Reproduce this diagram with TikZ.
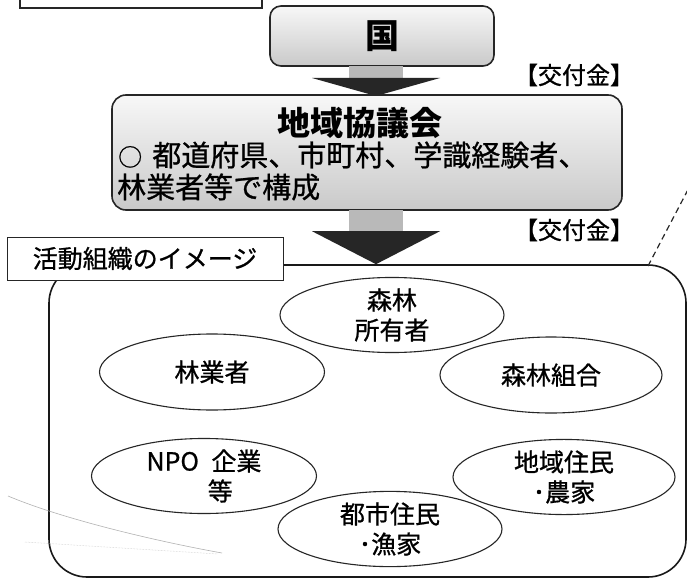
\documentclass[tikz,border=0pt]{standalone}
\usepackage{fontspec}
\newfontfamily\jp{Noto Sans CJK JP}
\newfontfamily\jpm[FakeBold=0.8]{Noto Sans CJK JP}
\usetikzlibrary{shapes.geometric,calc}
\tikzset{
  boxline/.style={draw=black!85, line width=1.6pt},
  grayfill/.style={top color=gray!6, bottom color=gray!42},
  orgell/.style={ellipse, draw=black!85, line width=1.1pt, inner sep=0pt, align=center,
    font=\jpm\fontsize{25}{30}\selectfont},
  shaftc/.style={fill=gray!55},
  headc/.style={fill=black!85},
  koufu/.style={font=\jpm\fontsize{24}{26}\selectfont},
}
\begin{document}
\begin{tikzpicture}[x=1pt,y=-1pt]
\useasboundingbox (0,0) rectangle (687,580);
\clip (0,0) rectangle (687,580);
\fill[white] (0,0) rectangle (687,580);
% top-left box (cut by the top edge)
\node[draw=black!85, line width=2pt, minimum width=242pt, minimum height=24pt, inner sep=0pt] (tl) at (141,-4) {};
% kuni box
\node[boxline, grayfill, rounded corners=11pt, minimum width=224pt, minimum height=60pt, inner sep=0pt,
  font=\jp\bfseries\fontsize{34}{36}\selectfont] (koku) at (382,36) {国};
% council box
\node[boxline, grayfill, rounded corners=14pt, minimum width=510pt, minimum height=115pt, inner sep=0pt] (kyo) at (367,152.5) {};
\node[font=\jp\bfseries\fontsize{33}{36}\selectfont, inner sep=0pt] (kyot) at (360,123) {地域協議会};
\node[font=\jpm\fontsize{29}{30}\selectfont, anchor=west, inner sep=0pt] (kyo1) at (118,155) {{\fontsize{24}{26}\selectfont ○}\hspace{0.35em}都道府県、市町村、学識経験者、};
\node[font=\jpm\fontsize{29}{30}\selectfont, anchor=west, inner sep=0pt] (kyo2) at (117,187) {林業者等で構成};
% arrow 1
\coordinate (a1s) at (376,0 |- koku.south);
\coordinate (a1t) at (376,96);
\fill[shaftc] ($(a1s)+(-27,-1)$) rectangle ($(a1t)+(27,-17)$);
\fill[headc] ($(a1t)+(-64,-18)$) -- ($(a1t)+(64,-18)$) -- (a1t) -- cycle;
\node[koufu] (k1) at (574,75) {【交付金】};
% container
\node[draw=black!90, line width=1.6pt, rounded corners=38pt, minimum width=637pt, minimum height=312pt, inner sep=0pt] (cont) at (367.5,421) {};
% arrow 2
\coordinate (a2s) at (376,0 |- kyo.south);
\coordinate (a2t) at (376,0 |- cont.north);
\fill[shaftc] ($(a2s)+(-27,-1)$) rectangle ($(a2t)+(27,-32)$);
\fill[headc] ($(a2t)+(-64,-33)$) -- ($(a2t)+(64,-33)$) -- (a2t) -- cycle;
\node[koufu] (k2) at (574,230) {【交付金】};
% label box
\node[draw=black!85, line width=1pt, fill=white, minimum width=276pt, minimum height=43pt, inner sep=0pt,
  font=\jpm\fontsize{25}{28}\selectfont] (lab) at (145,258.5) {活動組織のイメージ};
% dashed line to the right
\coordinate (dend) at (692,182);
\draw[black!85, line width=1.2pt, dashed, dash pattern=on 6pt off 4pt] (648,266) -- (dend);
% faint scan line
\coordinate (f1) at (8,496);
\coordinate (f2) at (222,553);
\draw[gray!60, line width=0.6pt] (f1) .. controls (60,518) and (150,540) .. (f2);
\draw[gray!45, line width=0.5pt, densely dotted] (25,542) -- (218,554);
% organisations
\node[orgell, minimum width=224pt, minimum height=75pt] (own) at (392,315) {森林\\所有者};
\node[orgell, minimum width=225pt, minimum height=76pt] (ring) at (212,372) {林業者};
\node[orgell, minimum width=222pt, minimum height=76pt] (kumi) at (551,375) {森林組合};
\node[orgell, minimum width=225pt, minimum height=75pt] (npo) at (204,476) {NPO\enspace 企業\\\hspace{1.3em}等};
\node[orgell, minimum width=224pt, minimum height=72pt] (toshi) at (390,529) {都市住民\\･漁家};
\node[orgell, minimum width=222pt, minimum height=71pt] (chiiki) at (564,477) {地域住民\\･農家};
\end{tikzpicture}
\end{document}
